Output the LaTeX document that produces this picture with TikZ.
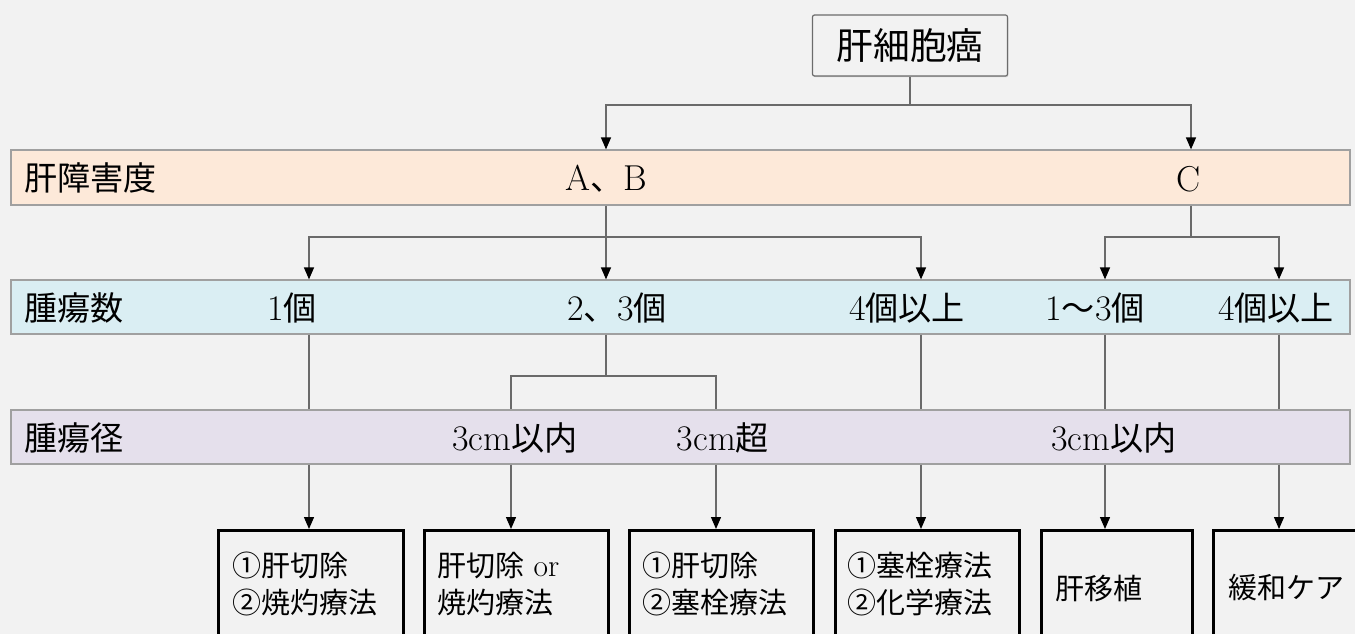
\documentclass[tikz,border=0pt]{standalone}
\usepackage{fontspec}
\newfontfamily\jpfont[Scale=0.92]{Noto Sans CJK JP}
\usetikzlibrary{arrows.meta,shadows}
\newcommand\J[1]{{\jpfont #1}}
\definecolor{bgc}{HTML}{F2F2F2}
\definecolor{peach}{HTML}{FDE9D9}
\definecolor{lblue}{HTML}{DAEEF3}
\definecolor{lav}{HTML}{E5E0EC}
\definecolor{bandline}{HTML}{A0A0A0}
\definecolor{connc}{HTML}{6A6A6A}
\begin{document}
\begin{tikzpicture}[x=1pt,y=-1pt,
  band/.style={draw=bandline, line width=1.2pt, minimum width=1339pt, inner sep=0pt,
    drop shadow={shadow xshift=0.8pt, shadow yshift=-1.2pt, fill=gray!55, opacity=0.6}},
  btxt/.style={font=\fontsize{36}{40}\selectfont, inner sep=0pt},
  topbox/.style={draw=gray!85!black, line width=1.2pt, fill=bgc, rounded corners=2pt,
    font=\fontsize{40}{44}\selectfont, inner sep=0pt,
    drop shadow={shadow xshift=0.8pt, shadow yshift=-1.2pt, fill=gray!55, opacity=0.6}},
  tbox/.style={draw=black, line width=2.5pt, fill=bgc, anchor=north west, minimum height=140pt, inner sep=0pt},
  boxtxt/.style={font=\fontsize{31.5}{37}\selectfont, align=left, anchor=west, inner sep=0pt},
  conn/.style={draw=connc, line width=1.3pt},
  arr/.style={conn, -{Triangle[length=12pt,width=10pt,color=black]}}
]
\useasboundingbox (0,0) rectangle (1355,634);
\clip (0,0) rectangle (1355,634);
\fill[bgc] (0,0) rectangle (1355,634);

% top box
\node[topbox, minimum width=195pt, minimum height=61pt] (top) at (910,45.5) {\J{肝細胞癌}};

% bands
\node[band, fill=peach, minimum height=55pt] (b1) at (680.5,177.5) {};
\node[band, fill=lblue, minimum height=54pt] (b2) at (680.5,307) {};
\node[band, fill=lav, minimum height=54pt] (b3) at (680.5,437) {};

% band labels
\node[btxt, anchor=west] (l1) at (24,178) {\J{肝障害度}};
\node[btxt] (ab) at (606,179) {A\J{、}B};
\node[btxt] (cc) at (1189,179) {C};

\node[btxt, anchor=west] (l2) at (24,308) {\J{腫瘍数}};
\node[btxt] (n1) at (292,308) {1\J{個}};
\node[btxt] (n2) at (617,308) {2\J{、}3\J{個}};
\node[btxt] (n3) at (907,308) {4\J{個以上}};
\node[btxt] (n4) at (1095,308) {1\J{〜}3\J{個}};
\node[btxt] (n5) at (1276,308) {4\J{個以上}};

\node[btxt, anchor=west] (l3) at (24,438) {\J{腫瘍径}};
\node[btxt] (d1) at (515,438) {3cm\J{以内}};
\node[btxt] (d2) at (723,438) {3cm\J{超}};
\node[btxt] (d3) at (1114,438) {3cm\J{以内}};

% bottom boxes
\node[tbox, minimum width=185pt] (k1) at (217,529) {};
\node[tbox, minimum width=184pt] (k2) at (423,529) {};
\node[tbox, minimum width=184pt] (k3) at (628,529) {};
\node[tbox, minimum width=184pt] (k4) at (834,529) {};
\node[tbox, minimum width=151pt] (k5) at (1040,529) {};
\node[tbox, minimum width=170pt] (k6) at (1212,529) {};

\node[boxtxt] (t1) at (232,584) {\J{①肝切除}\\\J{②焼灼療法}};
\node[boxtxt] (t2) at (437,584) {\J{肝切除} or\\\J{焼灼療法}};
\node[boxtxt] (t3) at (642,584) {\J{①肝切除}\\\J{②塞栓療法}};
\node[boxtxt] (t4) at (847,584) {\J{①塞栓療法}\\\J{②化学療法}};
\node[boxtxt] (t5) at (1055,588) {\J{肝移植}};
\node[boxtxt] (t6) at (1228,588) {\J{緩和ケア}};

% column coordinates
\coordinate (xA) at (606,0);
\coordinate (xC) at (1191,0);
\coordinate (x1) at (309,0);
\coordinate (x3) at (921,0);
\coordinate (x4) at (1105,0);
\coordinate (x5) at (1279,0);
\coordinate (y1) at (511,0);
\coordinate (y2) at (716,0);
\coordinate (j0) at (910,105);
\coordinate (j1) at (606,237);
\coordinate (j2) at (1191,237);
\coordinate (j3) at (606,376);

% top -> band1
\draw[conn] (top.south) -- (j0);
\draw[arr] (j0) -| (xA |- b1.north);
\draw[arr] (j0) -| (xC |- b1.north);

% band1 -> band2
\draw[conn] (xA |- b1.south) -- (j1);
\draw[arr] (j1) -| (x1 |- b2.north);
\draw[arr] (j1) -- (xA |- b2.north);
\draw[arr] (j1) -| (x3 |- b2.north);
\draw[conn] (xC |- b1.south) -- (j2);
\draw[arr] (j2) -| (x4 |- b2.north);
\draw[arr] (j2) -| (x5 |- b2.north);

% band2 -> band3
\draw[conn] (x1 |- b2.south) -- (x1 |- b3.north);
\draw[conn] (xA |- b2.south) -- (j3);
\draw[conn] (j3) -| (y1 |- b3.north);
\draw[conn] (j3) -| (y2 |- b3.north);
\draw[conn] (x3 |- b2.south) -- (x3 |- b3.north);
\draw[conn] (x4 |- b2.south) -- (x4 |- b3.north);
\draw[conn] (x5 |- b2.south) -- (x5 |- b3.north);

% band3 -> boxes
\draw[arr] (x1 |- b3.south) -- (x1 |- k1.north);
\draw[arr] (y1 |- b3.south) -- (y1 |- k2.north);
\draw[arr] (y2 |- b3.south) -- (y2 |- k3.north);
\draw[arr] (x3 |- b3.south) -- (x3 |- k4.north);
\draw[arr] (x4 |- b3.south) -- (x4 |- k5.north);
\draw[arr] (x5 |- b3.south) -- (x5 |- k6.north);
\end{tikzpicture}
\end{document}
